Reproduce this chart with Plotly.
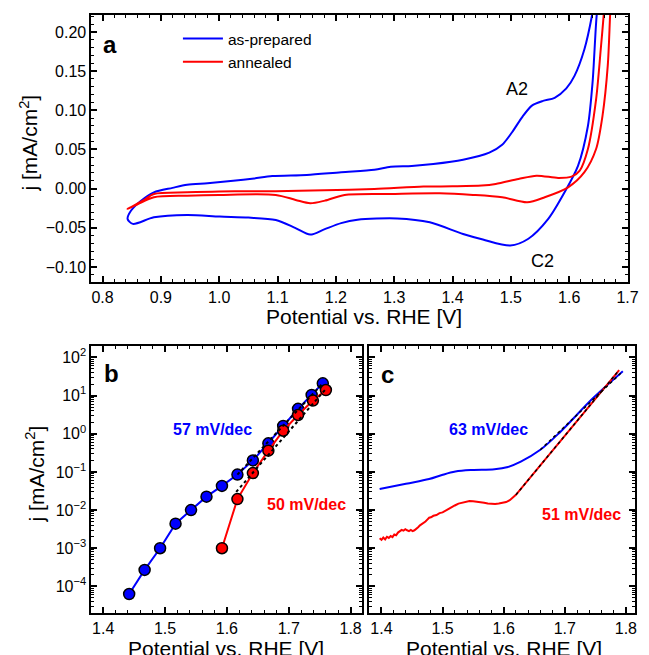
import plotly.graph_objects as go

# ---------------- Panel a: cyclic voltammograms ----------------
a_blue_x = [0.849, 0.865, 0.888, 0.920, 0.945, 0.980, 1.024, 1.060, 1.091, 1.150, 1.209, 1.266,
            1.294, 1.330, 1.367, 1.418, 1.463, 1.485, 1.502, 1.520, 1.536, 1.555, 1.575, 1.595,
            1.609, 1.626, 1.639, 1.645,
            1.652, 1.647, 1.640, 1.632, 1.615, 1.592, 1.564, 1.530, 1.499, 1.452, 1.418, 1.361,
            1.305, 1.237, 1.209, 1.180, 1.156, 1.130, 1.097, 1.050, 1.001, 0.945, 0.888, 0.852,
            0.843, 0.849]
a_blue_y = [-0.028, -0.016, -0.0047, 0.001, 0.005, 0.007, 0.010, 0.013, 0.016, 0.0175, 0.021, 0.024,
            0.028, 0.029, 0.0315, 0.037, 0.046, 0.056, 0.072, 0.092, 0.106, 0.112, 0.116, 0.128,
            0.144, 0.178, 0.221, 0.25,
            0.25, 0.221, 0.136, 0.080, 0.029, -0.0047, -0.0387, -0.064, -0.0727, -0.065, -0.058, -0.043,
            -0.038, -0.0396, -0.044, -0.052, -0.0587, -0.050, -0.040, -0.037, -0.0357, -0.0336, -0.0366, -0.045,
            -0.0387, -0.028]

a_red_x = [0.843, 0.870, 0.888, 0.945, 1.000, 1.097, 1.180, 1.266, 1.350, 1.400, 1.450, 1.474,
           1.513, 1.544, 1.581, 1.604, 1.618, 1.632, 1.646, 1.654, 1.659, 1.662,
           1.672, 1.670, 1.666, 1.657, 1.646, 1.626, 1.598, 1.558, 1.528, 1.485, 1.435, 1.378,
           1.294, 1.215, 1.181, 1.156, 1.131, 1.097, 1.000, 0.945, 0.888, 0.860, 0.843]
a_red_y = [-0.026, -0.015, -0.0068, -0.0047, -0.0035, -0.0034, -0.002, -0.0004, 0.0026, 0.003, 0.004, 0.006,
           0.0124, 0.0166, 0.0137, 0.0153, 0.023, 0.0506, 0.114, 0.178, 0.221, 0.25,
           0.25, 0.221, 0.157, 0.093, 0.0506, 0.021, 0.0017, -0.011, -0.0175, -0.011, -0.008, -0.006,
           -0.0068, -0.008, -0.0153, -0.0187, -0.0144, -0.008, -0.008, -0.009, -0.011, -0.020, -0.026]

a_xticks = [0.8, 0.9, 1.0, 1.1, 1.2, 1.3, 1.4, 1.5, 1.6, 1.7]
a_yticks = [-0.10, -0.05, 0.00, 0.05, 0.10, 0.15, 0.20]

# ---------------- Panel b: Tafel points ----------------
b_blue_x = [1.442, 1.467, 1.492, 1.517, 1.542, 1.567, 1.592, 1.617, 1.642, 1.667, 1.691, 1.715, 1.737, 1.755]
b_blue_y = [6.3e-5, 2.7e-4, 1.0e-3, 4.4e-3, 1.0e-2, 2.25e-2, 4.3e-2, 8.5e-2, 0.20, 0.56, 1.6, 4.5, 10.4, 21.0]
b_red_x = [1.592, 1.617, 1.642, 1.667, 1.691, 1.715, 1.739, 1.760]
b_red_y = [1.0e-3, 1.94e-2, 9.3e-2, 0.36, 1.2, 3.1, 7.4, 14.0]
b_fit_blue_x = [1.617, 1.755]
b_fit_blue_y = [0.085, 21.0]
b_fit_red_x = [1.615, 1.760]
b_fit_red_y = [0.030, 15.0]

# ---------------- Panel c: Tafel curves ----------------
c_blue_x = [1.397, 1.440, 1.478, 1.499, 1.521, 1.548, 1.585, 1.607, 1.628, 1.660, 1.693, 1.746, 1.795]
c_blue_y = [0.0355, 0.049, 0.065, 0.083, 0.102, 0.112, 0.117, 0.135, 0.186, 0.38, 1.135, 8.5, 43.6]
c_red_x = [1.397, 1.400, 1.403, 1.406, 1.409, 1.412, 1.415, 1.418, 1.421, 1.424, 1.427, 1.430,
           1.433, 1.436, 1.439, 1.442, 1.445, 1.448, 1.451, 1.454, 1.457, 1.460, 1.463, 1.466,
           1.469, 1.472, 1.475, 1.478, 1.481, 1.485, 1.490, 1.495, 1.500, 1.505, 1.510, 1.515,
           1.520, 1.526, 1.532, 1.538, 1.544, 1.550, 1.556, 1.562, 1.568, 1.574, 1.580, 1.586,
           1.592, 1.598, 1.604, 1.610, 1.615, 1.620, 1.789]
c_red_log10j = [-2.74, -2.78, -2.72, -2.77, -2.70, -2.73, -2.68, -2.71, -2.64, -2.66, -2.59, -2.56,
                -2.52, -2.54, -2.50, -2.53, -2.55, -2.52, -2.55, -2.53, -2.50, -2.45, -2.40, -2.37,
                -2.33, -2.30, -2.25, -2.20, -2.19, -2.15, -2.13, -2.08, -2.06, -2.01, -1.97, -1.92,
                -1.88, -1.83, -1.80, -1.77, -1.76, -1.77, -1.78, -1.79, -1.81, -1.83, -1.84, -1.84,
                -1.83, -1.81, -1.79, -1.74, -1.68, -1.60, 1.67]
c_red_y = [10 ** v for v in c_red_log10j]
c_fit_blue_x = [1.660, 1.795]
c_fit_blue_y = [0.38, 43.6]
c_fit_red_x = [1.620, 1.789]
c_fit_red_y = [2.5e-2, 46.8]

log_tickvals = [1e-4, 1e-3, 1e-2, 1e-1, 1e0, 1e1, 1e2]
log_ticktext = ["10<sup>\u22124</sup>", "10<sup>\u22123</sup>", "10<sup>\u22122</sup>", "10<sup>\u22121</sup>",
                "10<sup>0</sup>", "10<sup>1</sup>", "10<sup>2</sup>"]
bc_xticks = [1.4, 1.5, 1.6, 1.7, 1.8]

BLUE = "#0000ff"
RED = "#ff0000"
FONT = "Arial, Liberation Sans, sans-serif"
W, H = 649, 655

fig = go.Figure()

# panel a
fig.add_trace(go.Scatter(x=a_blue_x, y=a_blue_y, mode="lines", name="as-prepared", line_shape="spline",
                         line=dict(color=BLUE, width=2, smoothing=0.8), xaxis="x", yaxis="y"))
fig.add_trace(go.Scatter(x=a_red_x, y=a_red_y, mode="lines", name="annealed", line_shape="spline",
                         line=dict(color=RED, width=2, smoothing=0.8), xaxis="x", yaxis="y"))

# panel b
fig.add_trace(go.Scatter(x=b_blue_x, y=b_blue_y, mode="lines+markers", showlegend=False,
                         line=dict(color=BLUE, width=2),
                         marker=dict(size=11, color=BLUE, line=dict(color="black", width=1.5)),
                         xaxis="x2", yaxis="y2"))
fig.add_trace(go.Scatter(x=b_red_x, y=b_red_y, mode="lines+markers", showlegend=False,
                         line=dict(color=RED, width=2),
                         marker=dict(size=11, color=RED, line=dict(color="black", width=1.5)),
                         xaxis="x2", yaxis="y2"))
fig.add_trace(go.Scatter(x=b_fit_blue_x, y=b_fit_blue_y, mode="lines", showlegend=False,
                         line=dict(color="black", width=2, dash="dot"), xaxis="x2", yaxis="y2"))
fig.add_trace(go.Scatter(x=b_fit_red_x, y=b_fit_red_y, mode="lines", showlegend=False,
                         line=dict(color="black", width=2, dash="dot"), xaxis="x2", yaxis="y2"))

# panel c
fig.add_trace(go.Scatter(x=c_blue_x, y=c_blue_y, mode="lines", showlegend=False, line_shape="spline",
                         line=dict(color=BLUE, width=2), xaxis="x3", yaxis="y3"))
fig.add_trace(go.Scatter(x=c_red_x, y=c_red_y, mode="lines", showlegend=False,
                         line=dict(color=RED, width=2), xaxis="x3", yaxis="y3"))
fig.add_trace(go.Scatter(x=c_fit_blue_x, y=c_fit_blue_y, mode="lines", showlegend=False,
                         line=dict(color="black", width=1.5, dash="dot"), xaxis="x3", yaxis="y3"))
fig.add_trace(go.Scatter(x=c_fit_red_x, y=c_fit_red_y, mode="lines", showlegend=False,
                         line=dict(color="black", width=1.5, dash="dot"), xaxis="x3", yaxis="y3"))

def px_x(p):
    return p / W

def px_y(p):
    return 1 - p / H

axis_common = dict(showline=True, linewidth=2, linecolor="black", mirror="ticks",
                   ticks="inside", ticklen=6, tickwidth=1.5, tickcolor="black",
                   showgrid=False, zeroline=False,
                   tickfont=dict(family=FONT, size=16, color="black"))
minor_lin = dict(ticks="inside", ticklen=3, tickwidth=1, tickcolor="black", showgrid=False)
minor_log = dict(ticks="inside", ticklen=3, tickwidth=1, tickcolor="black", dtick="D1", showgrid=False)

fig.update_layout(
    width=W, height=H, margin=dict(l=0, r=0, t=0, b=0),
    paper_bgcolor="white", plot_bgcolor="white",
    font=dict(family=FONT, color="black"),
    xaxis=dict(domain=[px_x(93), px_x(639)], range=[0.781, 1.701], anchor="y",
               tickvals=a_xticks, tickformat=".1f", minor=dict(minor_lin, dtick=0.02), **axis_common),
    yaxis=dict(domain=[px_y(282), px_y(15)], range=[-0.1192, 0.2217], anchor="x",
               tickvals=a_yticks, tickformat=".2f", minor=dict(minor_lin, dtick=0.01), **axis_common),
    xaxis2=dict(domain=[px_x(93), px_x(368)], range=[1.381, 1.818], anchor="y2",
                tickvals=bc_xticks, tickformat=".1f", minor=dict(minor_lin, dtick=0.02), **axis_common),
    yaxis2=dict(domain=[px_y(612.7), px_y(346)], type="log", range=[-4.69, 2.30], anchor="x2",
                tickvals=log_tickvals, ticktext=log_ticktext, minor=minor_log, **axis_common),
    xaxis3=dict(domain=[px_x(375), px_x(646)], range=[1.379, 1.815], anchor="y3",
                tickvals=bc_xticks, tickformat=".1f", minor=dict(minor_lin, dtick=0.02), **axis_common),
    yaxis3=dict(domain=[px_y(612.7), px_y(346)], type="log", range=[-4.69, 2.30], anchor="x3",
                tickvals=log_tickvals, ticktext=log_ticktext, showticklabels=False,
                minor=minor_log, **axis_common),
    legend=dict(x=px_x(181), y=px_y(22), xanchor="left", yanchor="top", itemwidth=40,
                bgcolor="rgba(0,0,0,0)", font=dict(family=FONT, size=15.5, color="black"),
                tracegroupgap=0),
)

ann = []
def txt(text, x, y, size, color="black", bold=False, xref="paper", yref="paper", angle=0):
    ann.append(dict(text=("<b>%s</b>" % text) if bold else text, x=x, y=y, xref=xref, yref=yref,
                    showarrow=False, textangle=angle, xanchor="center", yanchor="middle",
                    font=dict(family=FONT, size=size, color=color)))

# panel labels
txt("a", px_x(112), px_y(44), 24, bold=True)
txt("b", px_x(113), px_y(373), 24, bold=True)
txt("c", px_x(394), px_y(374), 24, bold=True)
# axis titles
txt("Potential vs. RHE [V]", px_x(370.5), px_y(316), 21)
txt("Potential vs. RHE [V]", px_x(230), px_y(648), 21)
txt("Potential vs. RHE [V]", px_x(512.5), px_y(648), 21)
txt("j [mA/cm<sup>2</sup>]", px_x(29), px_y(143), 21, angle=-90)
txt("j [mA/cm<sup>2</sup>]", px_x(36), px_y(474), 21, angle=-90)
# peak labels
txt("A2", 1.511, 0.1276, 18, xref="x", yref="y")
txt("C2", 1.555, -0.092, 18, xref="x", yref="y")
# slopes
txt("57 mV/dec", 1.577, 0.12, 16, color=BLUE, bold=True, xref="x2", yref="y2")
txt("50 mV/dec", 1.729, -1.86, 16, color=RED, bold=True, xref="x2", yref="y2")
txt("63 mV/dec", 1.575, 0.11, 16, color=BLUE, bold=True, xref="x3", yref="y3")
txt("51 mV/dec", 1.727, -2.12, 16, color=RED, bold=True, xref="x3", yref="y3")

fig.update_layout(annotations=ann)
fig.write_html("out.html")
